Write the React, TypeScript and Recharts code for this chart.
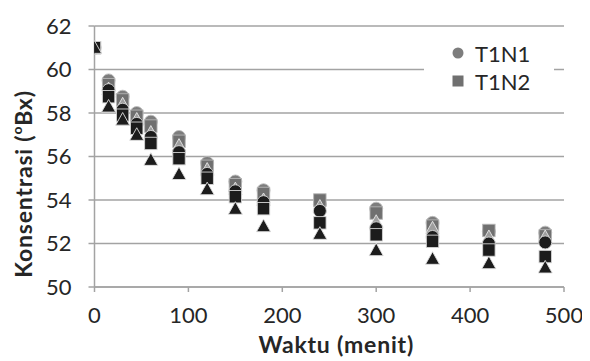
import React from 'react';
import { ScatterChart, Scatter, XAxis, YAxis, CartesianGrid, Legend } from 'recharts';

const minutes = [0, 15, 30, 45, 60, 90, 120, 150, 180, 240, 300, 360, 420, 480];
const t1n1 = [61, 59.5, 58.75, 58.0, 57.6, 56.9, 55.7, 54.85, 54.45, 53.8, 53.6, 52.95, 52.55, 52.5];
const t1n2 = [61, 59.3, 58.6, 57.85, 57.4, 56.7, 55.55, 54.7, 54.3, 54.0, 53.4, 52.8, 52.6, 52.35];
const t1n3 = [61, 59.1, 58.4, 57.7, 57.1, 56.5, 55.4, 54.5, 54.0, 53.7, 53.0, 52.7, 52.3, 52.3];
const t2n1 = [61, 59.05, 58.15, 57.5, 56.9, 56.2, 55.2, 54.4, 53.9, 53.5, 52.7, 52.3, 52.0, 52.05];
const t2n2 = [61, 58.75, 57.9, 57.3, 56.6, 55.9, 55.0, 54.15, 53.6, 52.95, 52.4, 52.1, 51.7, 51.4];
const t2n3 = [61, 58.3, 57.7, 57.0, 55.85, 55.2, 54.5, 53.6, 52.8, 52.45, 51.7, 51.3, 51.1, 50.9];

const xTicks = [0, 100, 200, 300, 400, 500];
const yTicks = [50, 52, 54, 56, 58, 60, 62];
const legendNames = ['T1N1', 'T1N2'];

const toPoints = (vals: number[]) => minutes.map((m, i) => ({ x: m, y: vals[i] }));

const FONT = 'Lato, "Noto Sans", sans-serif';
const TEXT = '#262626';
const GRID = '#a3a3a3';

type Kind = 'circle' | 'square' | 'triangle';

const makeShape = (kind: Kind, fill: string, stroke: string) => (props: any) => {
  const { cx, cy } = props;
  if (cx == null || cy == null) return <g />;
  if (kind === 'circle') {
    return <circle cx={cx} cy={cy} r={6.5} fill={fill} stroke={stroke} strokeWidth={0.9} />;
  }
  if (kind === 'square') {
    return <rect x={cx - 6.2} y={cy - 6.2} width={12.4} height={12.4} fill={fill} stroke={stroke} strokeWidth={0.9} />;
  }
  const s = 7;
  return (
    <polygon
      points={`${cx},${cy - s} ${cx - s},${cy + s * 0.8} ${cx + s},${cy + s * 0.8}`}
      fill={fill}
      stroke={stroke}
      strokeWidth={0.9}
    />
  );
};

const series = [
  { name: 'T1N1', data: t1n1, kind: 'circle' as Kind, fill: '#7d7d7d', stroke: '#bdbdbd' },
  { name: 'T1N2', data: t1n2, kind: 'square' as Kind, fill: '#707070', stroke: '#b5b5b5' },
  { name: 'T1N3', data: t1n3, kind: 'triangle' as Kind, fill: '#9e9e9e', stroke: '#e8e8e8' },
  { name: 'T2N1', data: t2n1, kind: 'circle' as Kind, fill: '#1c1c1c', stroke: '#d4d4d4' },
  { name: 'T2N2', data: t2n2, kind: 'square' as Kind, fill: '#1c1c1c', stroke: '#d4d4d4' },
  { name: 'T2N3', data: t2n3, kind: 'triangle' as Kind, fill: '#1c1c1c', stroke: '#e0e0e0' },
];

const LegendBox = () => (
  <svg width={130} height={66} style={{ display: 'block', background: '#fff' }}>
    {legendNames.map((n, i) => {
      const s = series.find((d) => d.name === n)!;
      const cy = 18 + i * 28;
      return (
        <g key={n}>
          {s.kind === 'circle' ? (
            <circle cx={34} cy={cy} r={5.5} fill={s.fill} />
          ) : (
            <rect x={28.5} y={cy - 5.5} width={11} height={11} fill={s.fill} />
          )}
          <text x={51} y={cy} dominantBaseline="central" fontFamily={FONT} fontSize={22} fill={TEXT}>
            {n}
          </text>
        </g>
      );
    })}
  </svg>
);

const YLabel = () => (
  <text
    x={15}
    y={176}
    transform="rotate(-90, 15, 176)"
    textAnchor="middle"
    dominantBaseline="central"
    fontFamily={FONT}
    fontWeight="bold"
    fontSize={23}
    letterSpacing={0.8}
    fill={TEXT}
  >
    <tspan>Konsentrasi (</tspan>
    <tspan dy={-7} fontSize={14}>o</tspan>
    <tspan dy={7}>Bx)</tspan>
  </text>
);

const XLabel = (props: any) => {
  const vb = props.viewBox || {};
  const cx = (vb.x ?? 86) + (vb.width ?? 470) / 2 + 7;
  return (
    <text x={cx} y={336} textAnchor="middle" dominantBaseline="central" fontFamily={FONT} fontWeight="bold" fontSize={23} letterSpacing={0.8} fill={TEXT}>
      Waktu (menit)
    </text>
  );
};

export default function App() {
  return (
    <ScatterChart width={582} height={353} margin={{ top: 18, right: 26, bottom: 0, left: 0 }}>
      <CartesianGrid horizontal vertical={false} stroke={GRID} strokeWidth={1.5} />
      <XAxis
        type="number"
        dataKey="x"
        domain={[0, 500]}
        ticks={xTicks}
        height={74}
        stroke={GRID}
        strokeWidth={1.5}
        tickSize={5}
        tickMargin={15}
        tick={{ fontFamily: FONT, fontSize: 22, fill: TEXT }}
        label={<XLabel />}
        allowDataOverflow
      />
      <YAxis
        type="number"
        dataKey="y"
        domain={[50, 62]}
        ticks={yTicks}
        width={86.5}
        stroke={GRID}
        strokeWidth={1.5}
        tickSize={6}
        tickMargin={17}
        tick={{ fontFamily: FONT, fontSize: 22, fill: TEXT }}
        label={<YLabel />}
        allowDataOverflow
      />
      <Legend
        layout="horizontal"
        verticalAlign="middle"
        align="center"
        content={() => <LegendBox />}
        wrapperStyle={{ position: 'absolute', left: 416, top: 27, width: 130, height: 66 }}
      />
      {series.map((s) => (
        <Scatter
          key={s.name}
          name={s.name}
          data={toPoints(s.data)}
          shape={makeShape(s.kind, s.fill, s.stroke)}
          isAnimationActive={false}
        />
      ))}
    </ScatterChart>
  );
}
